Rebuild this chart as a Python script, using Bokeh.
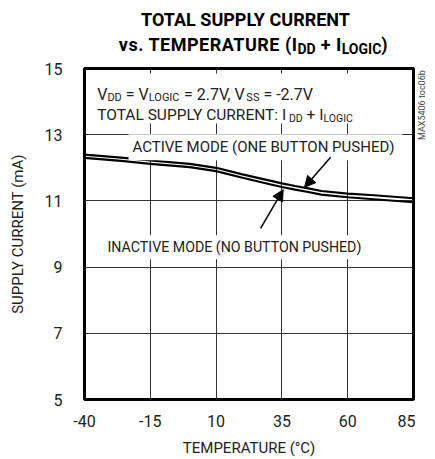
from bokeh.plotting import figure
from bokeh.layouts import column, row
from bokeh.models import Label, Arrow, NormalHead, BoxAnnotation, FixedTicker, Div
from bokeh.embed import file_html
from bokeh.resources import INLINE

# ---------------- data ----------------
temperature = [-40, -25, -15, 0, 10, 20, 30, 35, 40, 45, 50, 60, 70, 85]
active_mode = [12.40, 12.30, 12.22, 12.12, 12.00, 11.80, 11.62, 11.53, 11.45, 11.38, 11.30, 11.22, 11.17, 11.08]
inactive_mode = [12.30, 12.20, 12.12, 12.02, 11.90, 11.70, 11.51, 11.42, 11.34, 11.27, 11.19, 11.11, 11.05, 10.96]

x_ticks = [-40, -15, 10, 35, 60, 85]
y_ticks = [5, 7, 9, 11, 13, 15]

active_arrow = dict(x_start=53.5, y_start=12.32, x_end=43.6, y_end=11.41)
inactive_arrow = dict(x_start=26.9, y_start=10.17, x_end=35.5, y_end=11.34)

FONT = "Roboto"
TXT = "#222222"

# approximate Roboto advance widths (em) used to lay out sub-scripted text runs
ADV = {" ": .248, "=": .549, "+": .568, "-": .276, ".": .263, ",": .196, ":": .22,
       "A": .652, "B": .622, "C": .651, "D": .656, "E": .568, "G": .681, "I": .28,
       "L": .539, "N": .712, "O": .688, "P": .631, "R": .615, "S": .594, "T": .597,
       "U": .648, "V": .637, "Y": .601}


def adv(s, size):
    return sum(ADV.get(ch, .562) for ch in s) * size


# ---------------- main plot ----------------
# frame left / bottom in picture pixels (used to place the text pieces)
FL, FB = 84, 399

p = figure(frame_width=329, frame_height=331,
           min_border_left=84, min_border_right=2, min_border_top=8, min_border_bottom=60,
           x_range=(-40, 85), y_range=(5, 15),
           output_backend="svg", toolbar_location=None)

p.outline_line_color = "black"
p.outline_line_width = 3
p.background_fill_color = "white"

for ax in (p.xaxis, p.yaxis):
    ax.axis_line_color = None
    ax.major_tick_line_color = None
    ax.minor_tick_line_color = None
    ax.major_label_text_font = FONT
    ax.major_label_text_font_size = "16px"
    ax.major_label_text_color = TXT
    ax.axis_label_text_font = FONT
    ax.axis_label_text_font_size = "15px"
    ax.axis_label_text_font_style = "normal"
    ax.axis_label_text_color = TXT

p.xaxis.ticker = FixedTicker(ticks=x_ticks)
p.yaxis.ticker = FixedTicker(ticks=y_ticks)
p.xaxis.major_label_overrides = {t: str(t) for t in x_ticks}
p.xaxis.major_label_standoff = 9
p.yaxis.major_label_standoff = 16
p.xaxis.axis_label = "TEMPERATURE (°C)"
p.yaxis.axis_label = "SUPPLY CURRENT (mA)"
p.xaxis.axis_label_standoff = 9
p.yaxis.axis_label_standoff = 15

p.grid.grid_line_color = "#333333"
p.grid.grid_line_width = 1

p.line(temperature, active_mode, line_color="black", line_width=2.2, line_join="round")
p.line(temperature, inactive_mode, line_color="black", line_width=2.2, line_join="round")

# white mask behind header text
p.add_layout(BoxAnnotation(left=90 - FL, right=402 - FL, top=FB - 73, bottom=FB - 123,
                           left_units="screen", right_units="screen",
                           top_units="screen", bottom_units="screen",
                           fill_color="white", fill_alpha=1.0, line_color=None))


def mseg(txt, px, py, size, bg=None):
    lab = Label(x=px - FL, y=FB - py, x_units="screen", y_units="screen", text=txt,
                text_font=FONT, text_font_size=f"{size}px",
                text_color=TXT, text_align="left", text_baseline="alphabetic")
    if bg:
        lab.background_fill_color = bg
        lab.padding = 4
    p.add_layout(lab)


def run(pieces, x0, base, size, sub_size, sub_drop=3):
    """Lay out a line of text with subscripts: pieces = [(text, is_sub), ...]."""
    x = x0
    for txt, sub in pieces:
        sz = sub_size if sub else size
        lead = len(txt) - len(txt.lstrip(" "))
        x += adv(" " * lead, sz)
        core = txt.strip(" ")
        mseg(core, x, base + (sub_drop if sub else 0), sz)
        x += adv(core, sz)
        trail = len(txt) - len(txt.rstrip(" "))
        x += adv(" " * trail, sz)


run([("V", 0), ("DD", 1), (" = V", 0), ("LOGIC", 1), (" = 2.7V, V", 0), ("SS", 1), (" = -2.7V", 0)],
    96.7, 94, 16, 11)
run([("TOTAL SUPPLY CURRENT: I", 0), ("DD", 1), (" + I", 0), ("LOGIC", 1)],
    96.7, 114.7, 15.5, 10.5)

# mode labels
mseg("ACTIVE  MODE (ONE BUTTON PUSHED)", 128, 146.7, 15, bg="white")
mseg("INACTIVE MODE (NO BUTTON PUSHED)", 103, 246.7, 14.2, bg="white")

# arrows
for a in (active_arrow, inactive_arrow):
    p.add_layout(Arrow(end=NormalHead(size=11, fill_color="black", line_color="black"),
                       line_color="black", line_width=1.5, **a))

# ---------------- title (HTML text with subscripts) ----------------
SUB = 'style="font-size:14px;line-height:0;vertical-align:-3px;letter-spacing:0;"'
title_html = (
    '<div style="font-family:Roboto,sans-serif;font-weight:bold;font-size:18px;line-height:25px;'
    'color:#000;white-space:nowrap;padding-top:7px;">'
    '<div style="width:329px;margin-left:81px;text-align:center;">TOTAL SUPPLY CURRENT</div>'
    '<div style="width:329px;margin-left:89px;text-align:center;letter-spacing:0.5px;">'
    f'vs. TEMPERATURE (I<sub {SUB}>DD</sub> + I<sub {SUB}>LOGIC</sub>)</div>'
    '</div>'
)
title = Div(text=title_html, width=435, height=60, margin=(0, 0, 0, 0))

# ---------------- side code (rotated) ----------------
side_html = (
    '<div style="position:relative;width:20px;height:399px;">'
    '<div style="position:absolute;left:2px;top:10px;height:70px;writing-mode:vertical-rl;'
    'transform:rotate(180deg);font-family:Roboto,sans-serif;font-size:9px;line-height:10px;'
    'color:#444;white-space:nowrap;text-align:center;">MAX5406 toc06b</div></div>'
)
side = Div(text=side_html, width=20, height=399, margin=(0, 0, 0, 0))

layout = column(title, row(p, side, spacing=0), spacing=0)

open("out.html", "w").write(file_html(layout, INLINE))
